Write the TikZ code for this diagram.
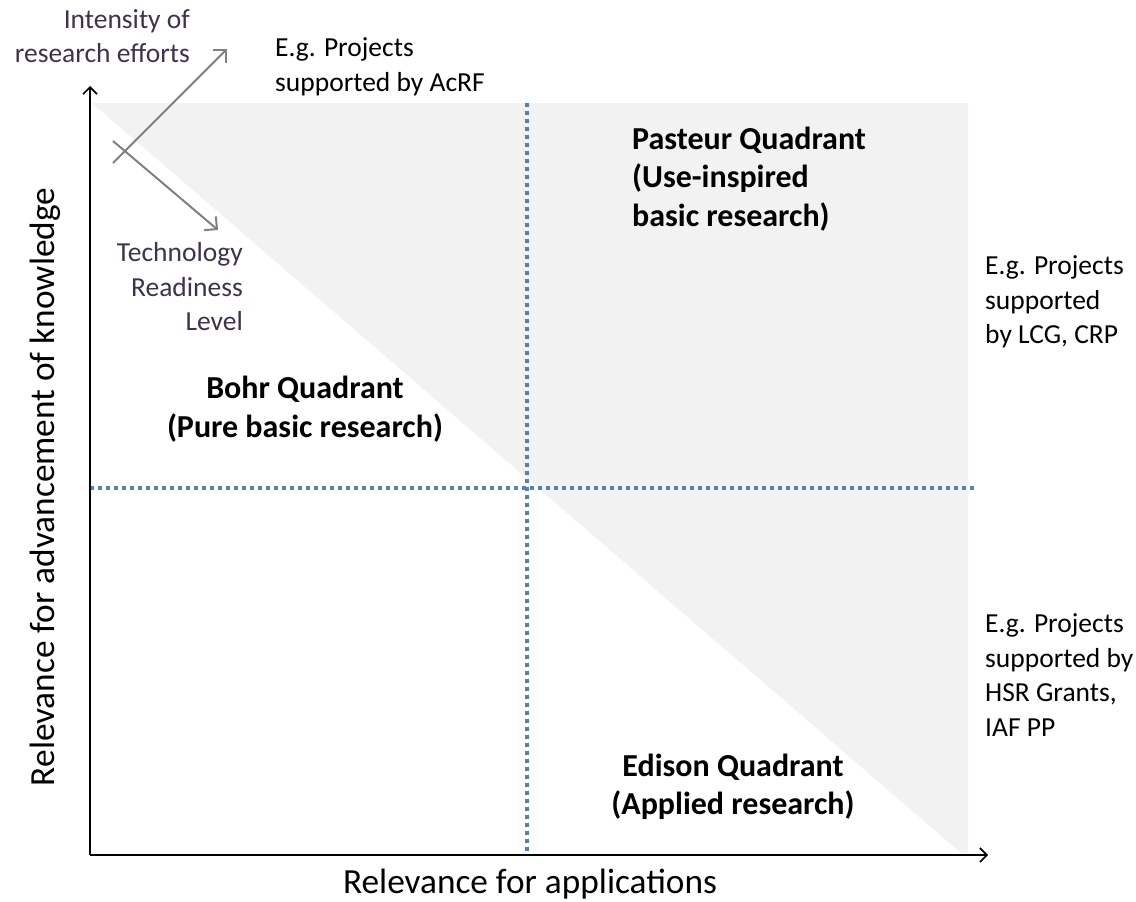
\documentclass[tikz,border=0pt]{standalone}
\usepackage{fontspec}
\setmainfont{Carlito}
\usetikzlibrary{arrows.meta}
\definecolor{shadegray}{HTML}{F2F2F2}
\definecolor{dotblue}{HTML}{4F81BD}
\definecolor{arrgray}{HTML}{808080}
\definecolor{purp}{HTML}{3F3151}
\tikzset{
  axis/.style={line width=1.6pt, -{Straight Barb[length=7pt,width=14pt,line width=1.6pt]}},
  dotline/.style={dotblue, line width=3.6pt, dash pattern=on 3.6pt off 4.4pt},
  grayarrow/.style={arrgray, line width=2pt, -{Straight Barb[length=9pt,width=18pt,line width=2pt]}},
  small/.style={font=\fontsize{27.5}{34.5}\selectfont, inner sep=0pt},
  quad/.style={font=\fontsize{32}{38.5}\selectfont\bfseries, inner sep=0pt},
  axlabel/.style={font=\fontsize{35.3}{40}\selectfont, inner sep=0pt},
}
\begin{document}
\begin{tikzpicture}[x=1pt,y=-1pt]
\useasboundingbox (0,0) rectangle (1136,902);
% shaded triangle
\fill[shadegray] (92,103) -- (968,103) -- (968,853) -- (961,853) -- cycle;
% coordinates
\coordinate (O) at (90,855);
\coordinate (Ytop) at (90,86);
\coordinate (Xend) at (988,855);
\coordinate (Vtop) at (527,103);
\coordinate (Vbot) at (527,855);
\coordinate (Hl) at (90,488);
\coordinate (Hr) at (975,488);
\coordinate (A1s) at (113,163);
\coordinate (A1e) at (227,49);
\coordinate (A2s) at (113,141);
\coordinate (A2e) at (218,230);
% dotted lines
\draw[dotline] (Vtop) -- (Vbot);
\draw[dotline] (Hl) -- (Hr);
% axes
\draw[axis] (O) -- (Ytop);
\draw[axis] (O) -- (Xend);
% gray arrows
\draw[grayarrow] (A1s) -- (A1e);
\draw[grayarrow] (A2s) -- (A2e);
% texts
\node[small, purp, align=right, anchor=east] (intens) at (190,36) {Intensity of\\research efforts};
\node[small, align=left, anchor=west] (acrf) at (275,67) {E.g. Projects\\supported by AcRF};
\node[small, purp, align=right, anchor=east] (trl) at (243,287) {Technology\\Readiness\\Level};
\node[quad, align=left, anchor=west] (pasteur) at (632,179) {Pasteur Quadrant\\(Use-inspired\\basic research)};
\node[quad, align=center] (bohr) at (305,409) {Bohr Quadrant\\(Pure basic research)};
\node[quad, align=center] (edison) at (733,787) {Edison Quadrant\\(Applied research)};
\node[small, align=left, anchor=west] (lcg) at (985,302) {E.g. Projects\\supported\\by LCG, CRP};
\node[small, align=left, anchor=west] (hsr) at (985,675) {E.g. Projects\\supported by\\HSR Grants,\\IAF PP};
\node[axlabel, anchor=base] (xlab) at (530,893) {Relevance for applications};
\node[axlabel, rotate=90] (ylab) at (45,487) {Relevance for advancement of knowledge};
\end{tikzpicture}
\end{document}
